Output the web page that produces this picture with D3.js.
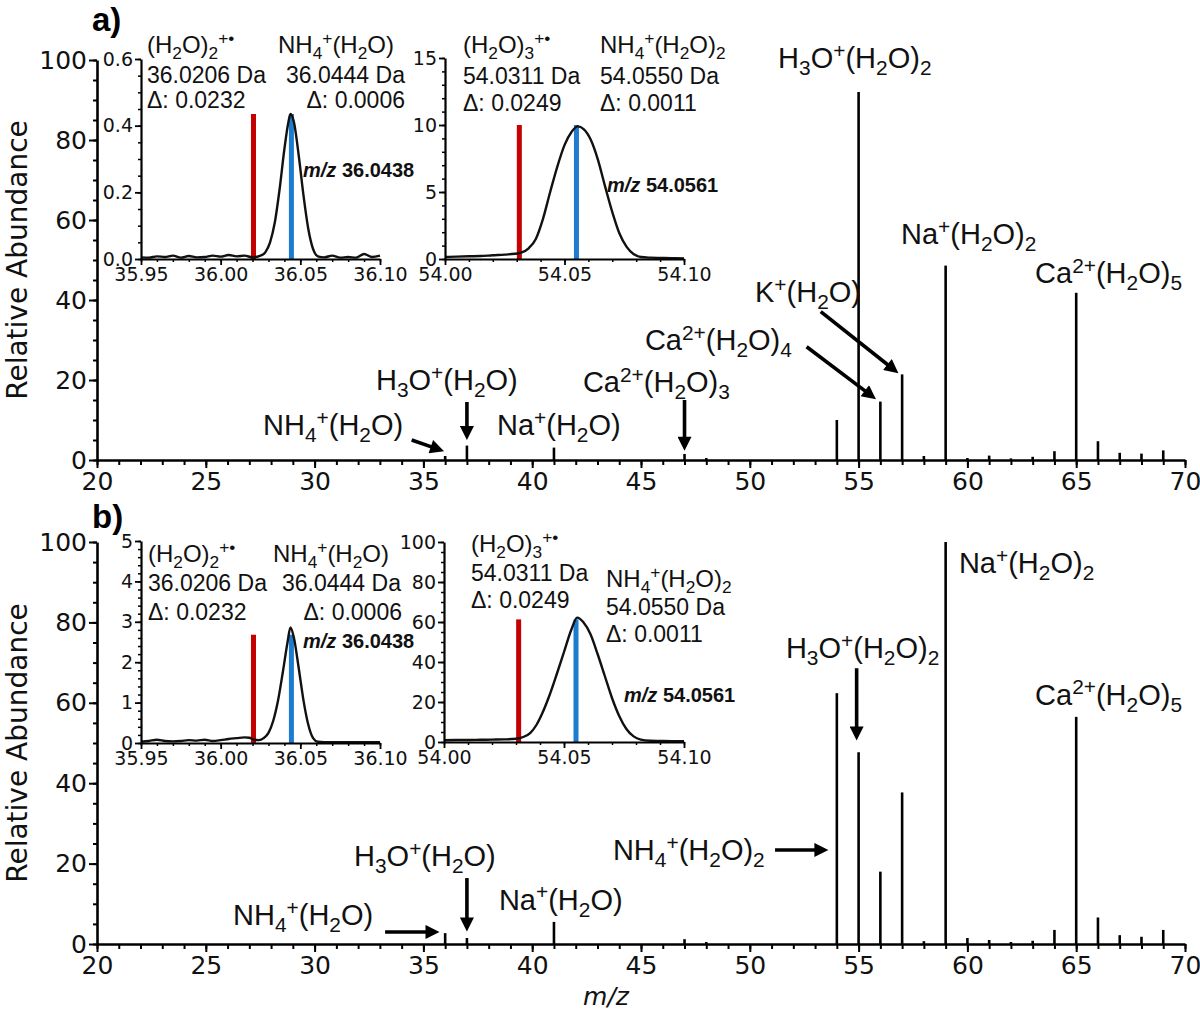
<!DOCTYPE html>
<html>
<head>
<meta charset="utf-8">
<script src="https://cdn.jsdelivr.net/npm/d3@7"></script>
<style>
  body { margin: 0; background: #fff; }
  svg { display: block; }
</style>
</head>
<body>
<div id="chart"></div>
<script>
// ---- data ----
// main spectra: stick peaks (m/z) and their relative abundance in each panel
const peakMz = [36, 37, 41, 47, 48, 54, 55, 56, 57, 58, 59, 60, 61, 62, 63, 64, 65, 66, 67, 68, 69];
const abundanceA = [1.0, 3.6, 3.1, 1.5, 0.5, 10, 92, 14.6, 21.4, 1.0, 48.6, 0.5, 1.1, 0.4, 0.8, 2.2, 41.8, 4.7, 1.8, 1.6, 2.4];
const abundanceB = [2.7, 1.5, 5.5, 1.2, 0.5, 62.4, 47.7, 18.0, 37.7, 0.7, 100, 1.5, 1.0, 0.5, 0.8, 3.5, 56.5, 6.6, 2.2, 1.8, 3.5];

const xTicksMain = [20, 25, 30, 35, 40, 45, 50, 55, 60, 65, 70];
const yTicksMain = [0, 20, 40, 60, 80, 100];

// zoomed profiles (insets)
const profileA1Mz = [35.950, 35.955, 35.960, 35.965, 35.970, 35.975, 35.980, 35.985, 35.990, 35.995, 36.000, 36.005, 36.010, 36.015, 36.020, 36.025, 36.028, 36.031, 36.034, 36.037, 36.040, 36.0425, 36.0438, 36.046, 36.049, 36.052, 36.055, 36.058, 36.061, 36.065, 36.070, 36.075, 36.080, 36.085, 36.090, 36.095, 36.100];
const profileA1Int = [0.005, 0.004, 0.008, 0.006, 0.010, 0.004, 0.009, 0.005, 0.006, 0.010, 0.007, 0.012, 0.008, 0.010, 0.005, 0.010, 0.02, 0.05, 0.11, 0.21, 0.33, 0.41, 0.435, 0.41, 0.31, 0.19, 0.09, 0.03, 0.008, 0.005, 0.010, 0.004, 0.006, 0.004, 0.015, 0.006, 0.010];

const profileA2Mz = [54.000, 54.005, 54.010, 54.015, 54.020, 54.025, 54.0314, 54.035, 54.038, 54.041, 54.044, 54.047, 54.050, 54.053, 54.0555, 54.058, 54.061, 54.064, 54.067, 54.070, 54.073, 54.076, 54.079, 54.082, 54.086, 54.090, 54.095, 54.100];
const profileA2Int = [0.15, 0.18, 0.2, 0.22, 0.28, 0.33, 0.45, 0.8, 1.5, 3.0, 5.0, 6.9, 8.5, 9.5, 9.9, 9.7, 8.9, 7.4, 5.4, 3.5, 1.9, 0.9, 0.35, 0.15, 0.1, 0.08, 0.06, 0.05];

const profileB1Mz = [35.950, 35.955, 35.960, 35.965, 35.970, 35.975, 35.980, 35.985, 35.990, 35.995, 36.000, 36.005, 36.010, 36.015, 36.018, 36.021, 36.024, 36.027, 36.030, 36.033, 36.036, 36.039, 36.042, 36.0438, 36.046, 36.049, 36.052, 36.055, 36.058, 36.061, 36.065, 36.070, 36.080, 36.090, 36.100];
const profileB1Int = [0.03, 0.05, 0.08, 0.05, 0.04, 0.05, 0.07, 0.06, 0.08, 0.05, 0.07, 0.1, 0.12, 0.14, 0.13, 0.08, 0.07, 0.12, 0.25, 0.55, 1.05, 1.75, 2.5, 2.86, 2.6, 1.85, 1.05, 0.45, 0.12, 0.03, 0.02, 0.02, 0.02, 0.02, 0.02];

const profileB2Mz = [54.000, 54.005, 54.010, 54.015, 54.020, 54.025, 54.030, 54.033, 54.036, 54.0385, 54.041, 54.044, 54.047, 54.050, 54.053, 54.0555, 54.058, 54.061, 54.064, 54.067, 54.070, 54.073, 54.076, 54.079, 54.082, 54.086, 54.090, 54.095, 54.100];
const profileB2Int = [0.9, 1.0, 1.0, 1.1, 1.2, 1.3, 1.6, 2.5, 4.6, 8.5, 14.5, 23.5, 34, 45, 56, 62.2, 60, 54, 44, 33, 22, 13, 6.5, 2.8, 1.2, 0.6, 0.5, 0.4, 0.4];

// theoretical masses shown as red / blue bars, and their heights per inset
const theoMz36 = [36.0206, 36.0444];
const theoMz54 = [54.0311, 54.0550];
const barHeights = { a1: 0.435, a2: 10, b1: 2.68, b2: 61.3 };

// ---- drawing ----
const W = 1200, H = 1015;
const labelFont = 'Liberation Sans, Arial, sans-serif';
const tickFont = 'DejaVu Sans, sans-serif';
const red = '#c40000', blue = '#1d7ccf';

const svg = d3.select('#chart').append('svg')
    .attr('width', W)
    .attr('height', H)
    .style('background', '#fff');

// arrow head
svg.append('defs').append('marker')
    .attr('id', 'head')
    .attr('viewBox', '0 0 10 10')
    .attr('refX', 10)
    .attr('refY', 5)
    .attr('markerWidth', 17)
    .attr('markerHeight', 14)
    .attr('markerUnits', 'userSpaceOnUse')
    .attr('orient', 'auto')
    .append('path')
    .attr('d', 'M0,0 L10,5 L0,10 z')
    .attr('fill', '#000');

// chemical formula: {..} subscript, [..] superscript, ~..~ italic
function formula(g, str, x, y, size, opts = {}) {
    const t = g.append('text')
        .attr('x', x)
        .attr('y', y)
        .attr('font-family', labelFont)
        .attr('font-size', size)
        .attr('font-weight', opts.bold ? 'bold' : null)
        .attr('text-anchor', opts.anchor || 'start')
        .attr('fill', '#111');
    const parts = str.match(/\{[^}]*\}|\[[^\]]*\]|~[^~]*~|[^{\[~]+/g);
    let shift = 0;
    parts.forEach(p => {
        const mode = p[0] === '{' ? 'sub' : p[0] === '[' ? 'sup' : p[0] === '~' ? 'ital' : 'norm';
        const txt = (mode === 'norm') ? p : p.slice(1, -1);
        const target = mode === 'sub' ? size * 0.24 : mode === 'sup' ? -size * 0.36 : 0;
        const small = mode === 'sub' || mode === 'sup';
        t.append('tspan')
            .attr('dy', target - shift)
            .attr('font-size', small ? size * 0.72 : size)
            .attr('font-style', mode === 'ital' ? 'italic' : null)
            .text(txt);
        shift = target;
    });
    return t;
}

function arrow(g, x1, y1, x2, y2) {
    // stop the shaft a bit before the tip so the head stays sharp
    const len = Math.hypot(x2 - x1, y2 - y1);
    const k = (len - 8) / len;
    g.append('line')
        .attr('x1', x1).attr('y1', y1)
        .attr('x2', x1 + (x2 - x1) * k).attr('y2', y1 + (y2 - y1) * k)
        .attr('stroke', '#000')
        .attr('stroke-width', 3.6);
    g.append('path')
        .attr('d', `M${x1},${y1}L${x2},${y2}`)
        .attr('stroke', 'none')
        .attr('fill', 'none')
        .attr('marker-end', 'url(#head)');
}

// d3.axis resets font attrs on its group, so style after calling it
function styleAxis(sel, size, domainW, tickW) {
    sel.attr('font-size', size).attr('font-family', tickFont);
    sel.select('.domain').attr('stroke-width', domainW);
    sel.selectAll('.tick line').attr('stroke-width', tickW);
    sel.selectAll('.tick text').attr('fill', '#111');
}

function drawMain(panel) {
    const g = svg.append('g');
    const x = d3.scaleLinear().domain([20, 70]).range([97, 1185]);
    const y = d3.scaleLinear().domain([0, 100]).range([panel.bottom, panel.top]);

    // stick spectrum
    const peaks = peakMz.map((m, i) => ({ m, v: panel.abundance[i] }));
    g.append('g').selectAll('line')
        .data(peaks)
        .join('line')
        .attr('x1', d => x(d.m))
        .attr('x2', d => x(d.m))
        .attr('y1', y(0))
        .attr('y2', d => y(d.v))
        .attr('stroke', '#000')
        .attr('stroke-width', 2.6);

    // x axis
    g.append('g')
        .attr('transform', `translate(0,${y(0)})`)
        .call(d3.axisBottom(x).tickValues(xTicksMain).tickSize(8).tickSizeOuter(0).tickPadding(4))
        .call(s => styleAxis(s, 25, 2.6, 2));
    g.append('g')
        .attr('transform', `translate(0,${y(0)})`)
        .call(d3.axisBottom(x).tickValues(d3.range(20, 71, 1)).tickSize(5).tickFormat(''))
        .call(s => s.select('.domain').remove())
        .selectAll('.tick line').attr('stroke-width', 2);

    // y axis
    g.append('g')
        .attr('transform', `translate(${x(20)},0)`)
        .call(d3.axisLeft(y).tickValues(yTicksMain).tickSize(8).tickSizeOuter(0).tickPadding(2))
        .call(s => styleAxis(s, 25, 2.6, 2));
    g.append('g')
        .attr('transform', `translate(${x(20)},0)`)
        .call(d3.axisLeft(y).tickValues(d3.range(0, 101, 5)).tickSize(4).tickFormat(''))
        .call(s => s.select('.domain').remove())
        .selectAll('.tick line').attr('stroke-width', 2);

    // axis title
    g.append('text')
        .attr('transform', `translate(27,${(panel.top + panel.bottom) / 2}) rotate(-90)`)
        .attr('text-anchor', 'middle')
        .attr('font-family', tickFont)
        .attr('font-size', 28)
        .attr('fill', '#111')
        .text('Relative Abundance');

    // panel tag
    g.append('text')
        .attr('x', 92)
        .attr('y', panel.tagY)
        .attr('font-family', labelFont)
        .attr('font-weight', 'bold')
        .attr('font-size', 33)
        .text(panel.tag);

    // peak labels and arrows (positions in m/z, abundance)
    panel.labels.forEach(l => formula(g, l.text, x(l.mz), y(l.v), 29));
    panel.arrows.forEach(a => arrow(g, x(a[0]), y(a[1]), x(a[2]), y(a[3])));
}

function drawInset(cfg) {
    const g = svg.append('g');
    const x = d3.scaleLinear().domain(cfg.xDomain).range([cfg.left, cfg.right]);
    const y = d3.scaleLinear().domain(cfg.yDomain).range([cfg.bottom, cfg.top]);

    // theoretical mass bars
    g.selectAll('rect')
        .data(cfg.theo)
        .join('rect')
        .attr('x', d => x(d) - 2.5)
        .attr('width', 5)
        .attr('y', y(cfg.barHeight))
        .attr('height', y(0) - y(cfg.barHeight))
        .attr('fill', (d, i) => i === 0 ? red : blue);

    // measured profile
    const pts = cfg.mz.map((m, i) => [m, cfg.intensity[i]]);
    g.append('path')
        .datum(pts)
        .attr('d', d3.line().x(d => x(d[0])).y(d => y(d[1])).curve(d3.curveMonotoneX))
        .attr('fill', 'none')
        .attr('stroke', '#111')
        .attr('stroke-width', 2.4);

    g.append('g')
        .attr('transform', `translate(0,${cfg.bottom})`)
        .call(d3.axisBottom(x).tickValues(cfg.xTicks).tickFormat(d3.format('.2f')).tickSize(6).tickSizeOuter(0).tickPadding(3))
        .call(s => styleAxis(s, 19, 2.2, 1.8));
    g.append('g')
        .attr('transform', `translate(0,${cfg.bottom})`)
        .call(d3.axisBottom(x).tickValues(cfg.xMinor).tickSize(3).tickFormat(''))
        .call(s => s.select('.domain').remove())
        .selectAll('.tick line').attr('stroke-width', 1.5);

    g.append('g')
        .attr('transform', `translate(${cfg.left},0)`)
        .call(d3.axisLeft(y).tickValues(cfg.yTicks).tickFormat(d3.format(cfg.yFormat)).tickSize(6).tickSizeOuter(0).tickPadding(2))
        .call(s => styleAxis(s, 19, 2.2, 1.8));
    g.append('g')
        .attr('transform', `translate(${cfg.left},0)`)
        .call(d3.axisLeft(y).tickValues(cfg.yMinor).tickSize(3).tickFormat(''))
        .call(s => s.select('.domain').remove())
        .selectAll('.tick line').attr('stroke-width', 1.5);

    cfg.texts.forEach(t => formula(g, t.s, t.x, t.y, t.size, t));
}

const minor36 = d3.range(0, 16).map(i => 35.95 + i * 0.01);
const minor54 = d3.range(0, 11).map(i => 54 + i * 0.01);

drawMain({
    top: 60, bottom: 460, abundance: abundanceA, tag: 'a)', tagY: 31,
    labels: [
        { text: 'H{3}O[+](H{2}O){2}', mz: 51.30, v: 98.0 },
        { text: 'Na[+](H{2}O){2}', mz: 56.95, v: 54.0 },
        { text: 'Ca[2+](H{2}O){5}', mz: 63.11, v: 44.25 },
        { text: 'K[+](H{2}O)', mz: 50.24, v: 39.5 },
        { text: 'Ca[2+](H{2}O){4}', mz: 45.18, v: 27.5 },
        { text: 'Ca[2+](H{2}O){3}', mz: 42.33, v: 17.0 },
        { text: 'H{3}O[+](H{2}O)', mz: 32.82, v: 17.5 },
        { text: 'NH{4}[+](H{2}O)', mz: 27.63, v: 6.25 },
        { text: 'Na[+](H{2}O)', mz: 38.38, v: 6.25 }
    ],
    arrows: [
        [34.46, 5.0, 35.95, 2.2],
        [37, 14.5, 37, 5.0],
        [47, 15.0, 47, 2.3],
        [52.61, 28.3, 55.8, 15.2],
        [53.26, 37.1, 56.83, 21.7]
    ]
});

drawMain({
    top: 542, bottom: 944, abundance: abundanceB, tag: 'b)', tagY: 528,
    labels: [
        { text: 'Na[+](H{2}O){2}', mz: 59.61, v: 92.3 },
        { text: 'H{3}O[+](H{2}O){2}', mz: 51.66, v: 71.1 },
        { text: 'Ca[2+](H{2}O){5}', mz: 63.11, v: 59.5 },
        { text: 'NH{4}[+](H{2}O){2}', mz: 43.71, v: 20.9 },
        { text: 'H{3}O[+](H{2}O)', mz: 31.81, v: 19.4 },
        { text: 'Na[+](H{2}O)', mz: 38.47, v: 8.5 },
        { text: 'NH{4}[+](H{2}O)', mz: 26.25, v: 4.7 }
    ],
    arrows: [
        [33.24, 3.0, 35.74, 3.0],
        [37, 16.4, 37, 3.1],
        [51.16, 23.4, 53.61, 23.4],
        [54.91, 68.6, 54.91, 50.6]
    ]
});

// x axis title for the bottom panel
svg.append('text')
    .attr('x', 606)
    .attr('y', 1005)
    .attr('text-anchor', 'middle')
    .attr('font-family', tickFont)
    .attr('font-style', 'italic')
    .attr('font-size', 25)
    .attr('fill', '#111')
    .text('m/z');

drawInset({
    xDomain: [35.95, 36.10], yDomain: [0, 0.6], left: 141, right: 380, top: 59, bottom: 259,
    xTicks: [35.95, 36.00, 36.05, 36.10], xMinor: minor36,
    yTicks: [0, 0.2, 0.4, 0.6], yMinor: d3.range(0, 13).map(i => i * 0.05), yFormat: '.1f',
    mz: profileA1Mz, intensity: profileA1Int, theo: theoMz36, barHeight: barHeights.a1,
    texts: [
        { s: '(H{2}O){2}[+•]', x: 147, y: 53, size: 24 },
        { s: 'NH{4}[+](H{2}O)', x: 278, y: 53, size: 24 },
        { s: '36.0206 Da', x: 147, y: 83, size: 23 },
        { s: '36.0444 Da', x: 286, y: 83, size: 23 },
        { s: 'Δ: 0.0232', x: 147, y: 108, size: 23 },
        { s: 'Δ: 0.0006', x: 405, y: 108, size: 23, anchor: 'end' },
        { s: '~m/z~ 36.0438', x: 303, y: 177, size: 20, bold: true }
    ]
});

drawInset({
    xDomain: [54.00, 54.10], yDomain: [0, 15], left: 445, right: 684, top: 58, bottom: 259,
    xTicks: [54.00, 54.05, 54.10], xMinor: minor54,
    yTicks: [0, 5, 10, 15], yMinor: d3.range(0, 16), yFormat: 'd',
    mz: profileA2Mz, intensity: profileA2Int, theo: theoMz54, barHeight: barHeights.a2,
    texts: [
        { s: '(H{2}O){3}[+•]', x: 463, y: 53, size: 24 },
        { s: 'NH{4}[+](H{2}O){2}', x: 600, y: 53, size: 24 },
        { s: '54.0311 Da', x: 463, y: 84, size: 23 },
        { s: '54.0550 Da', x: 600, y: 84, size: 23 },
        { s: 'Δ: 0.0249', x: 463, y: 111, size: 23 },
        { s: 'Δ: 0.0011', x: 600, y: 111, size: 23 },
        { s: '~m/z~ 54.0561', x: 607, y: 192, size: 20, bold: true }
    ]
});

drawInset({
    xDomain: [35.95, 36.10], yDomain: [0, 5], left: 141, right: 380, top: 541, bottom: 743,
    xTicks: [35.95, 36.00, 36.05, 36.10], xMinor: minor36,
    yTicks: [0, 1, 2, 3, 4, 5], yMinor: d3.range(0, 26).map(i => i * 0.2), yFormat: 'd',
    mz: profileB1Mz, intensity: profileB1Int, theo: theoMz36, barHeight: barHeights.b1,
    texts: [
        { s: '(H{2}O){2}[+•]', x: 148, y: 562, size: 24 },
        { s: 'NH{4}[+](H{2}O)', x: 273, y: 562, size: 24 },
        { s: '36.0206 Da', x: 148, y: 591, size: 23 },
        { s: '36.0444 Da', x: 282, y: 591, size: 23 },
        { s: 'Δ: 0.0232', x: 148, y: 620, size: 23 },
        { s: 'Δ: 0.0006', x: 402, y: 620, size: 23, anchor: 'end' },
        { s: '~m/z~ 36.0438', x: 303, y: 648, size: 20, bold: true }
    ]
});

drawInset({
    xDomain: [54.00, 54.10], yDomain: [0, 100], left: 444, right: 684, top: 542, bottom: 742,
    xTicks: [54.00, 54.05, 54.10], xMinor: minor54,
    yTicks: [0, 20, 40, 60, 80, 100], yMinor: d3.range(0, 101, 5), yFormat: 'd',
    mz: profileB2Mz, intensity: profileB2Int, theo: theoMz54, barHeight: barHeights.b2,
    texts: [
        { s: '(H{2}O){3}[+•]', x: 471, y: 552, size: 24 },
        { s: '54.0311 Da', x: 471, y: 581, size: 23 },
        { s: 'Δ: 0.0249', x: 471, y: 608, size: 23 },
        { s: 'NH{4}[+](H{2}O){2}', x: 606, y: 587, size: 24 },
        { s: '54.0550 Da', x: 606, y: 615, size: 23 },
        { s: 'Δ: 0.0011', x: 606, y: 642, size: 23 },
        { s: '~m/z~ 54.0561', x: 624, y: 702, size: 20, bold: true }
    ]
});
</script>
</body>
</html>
